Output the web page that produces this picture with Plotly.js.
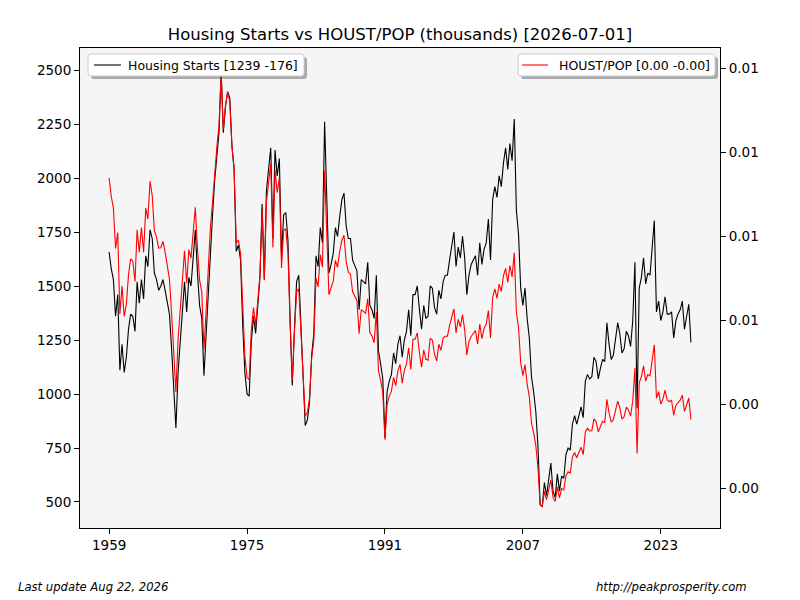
<!DOCTYPE html>
<html>
<head>
<meta charset="utf-8">
<script src="https://cdn.plot.ly/plotly-3.0.1.min.js"></script>
<style>
  html, body { margin: 0; padding: 0; background: #ffffff; }
  #chart { width: 800px; height: 600px; }
</style>
</head>
<body>
<div id="chart"></div>
<script>
// quarterly samples (Jan, Apr, Jul, Oct), housing starts, thousands SAAR
const firstYear = 1959;
const houst = [
  1657, 1580, 1530, 1360,   // 1959
  1460, 1110, 1230, 1100,   // 1960
  1170, 1300, 1370, 1360,   // 1961
  1290, 1520, 1420, 1530,   // 1962
  1440, 1640, 1590, 1760,   // 1963
  1720, 1560, 1530, 1480,   // 1964
  1500, 1530, 1480, 1420,   // 1965
  1370, 1210, 1030, 843,    // 1966
  1100, 1250, 1400, 1520,   // 1967
  1380, 1540, 1500, 1640,   // 1968
  1760, 1560, 1410, 1350,   // 1969
  1085, 1270, 1470, 1680,   // 1970
  1830, 1990, 2100, 2210,   // 1971
  2494, 2210, 2330, 2400,   // 1972
  2370, 2150, 2040, 1660,   // 1973
  1690, 1620, 1320, 1100,   // 1974
  1000, 990, 1240, 1360,    // 1975
  1280, 1400, 1540, 1880,   // 1976
  1530, 1940, 2040, 2140,   // 1977
  1720, 2130, 2010, 2090,   // 1978
  1630, 1830, 1840, 1710,   // 1979
  1340, 1040, 1300, 1520,   // 1980
  1550, 1310, 1020, 854,    // 1981
  880, 960, 1180, 1280,     // 1982
  1640, 1590, 1770, 1700,   // 1983
  2260, 1880, 1560, 1600,   // 1984
  1650, 1770, 1730, 1820,   // 1985
  1900, 1930, 1780, 1720,   // 1986
  1720, 1620, 1590, 1570,   // 1987
  1390, 1530, 1520, 1510,   // 1988
  1610, 1410, 1390, 1350,   // 1989
  1550, 1200, 1140, 1070,   // 1990
  798, 1010, 1060, 1090,    // 1991
  1190, 1140, 1230, 1270,   // 1992
  1170, 1250, 1290, 1390,   // 1993
  1270, 1460, 1460, 1500,   // 1994
  1390, 1300, 1410, 1350,   // 1995
  1360, 1500, 1490, 1400,   // 1996
  1370, 1480, 1440, 1520,   // 1997
  1550, 1550, 1620, 1680,   // 1998
  1750, 1590, 1680, 1630,   // 1999
  1730, 1630, 1460, 1550,   // 2000
  1600, 1620, 1640, 1550,   // 2001
  1700, 1600, 1670, 1700,   // 2002
  1810, 1620, 1900, 1960,   // 2003
  1910, 2010, 1960, 2070,   // 2004
  2140, 2040, 2160, 2080,   // 2005
  2273, 1850, 1740, 1490,   // 2006
  1410, 1490, 1350, 1260,   // 2007
  1080, 1010, 920, 760,     // 2008
  490, 478, 590, 530,       // 2009
  610, 680, 550, 520,       // 2010
  630, 550, 620, 610,       // 2011
  720, 750, 740, 860,       // 2012
  900, 860, 900, 940,       // 2013
  890, 1060, 1090, 1070,    // 2014
  1080, 1170, 1150, 1070,   // 2015
  1120, 1160, 1150, 1330,   // 2016
  1230, 1160, 1180, 1260,   // 2017
  1330, 1280, 1190, 1210,   // 2018
  1290, 1270, 1220, 1340,   // 2019
  1610, 934, 1490, 1540,    // 2020
  1630, 1510, 1560, 1550,   // 2021
  1680, 1803, 1380, 1430,   // 2022
  1340, 1380, 1450, 1370,   // 2023
  1370, 1380, 1260, 1340,   // 2024
  1370, 1390, 1430, 1300,   // 2025
  1360, 1415, 1239          // 2026
];

// US population, millions, by year 1959..2026
const pop = [
  176.6, 180.7, 183.7, 186.5, 189.2, 191.9, 194.3, 196.6, 198.7, 200.7,
  202.7, 205.1, 207.7, 209.9, 211.9, 213.9, 216.0, 218.0, 220.2, 222.6,
  225.1, 227.7, 229.9, 232.2, 234.3, 236.3, 238.5, 240.7, 242.8, 245.0,
  247.3, 250.1, 253.5, 256.9, 260.3, 263.4, 266.6, 269.7, 272.9, 276.1,
  279.3, 282.4, 285.3, 288.0, 290.7, 293.3, 296.0, 298.8, 301.7, 304.5,
  307.2, 309.7, 311.9, 314.1, 316.3, 318.6, 321.0, 323.3, 325.3, 327.1,
  328.6, 331.0, 332.0, 333.3, 335.0, 337.5, 339.8, 341.5
];

const tickYears = [1959, 1975, 1991, 2007, 2023];
const leftTickVals = [500, 750, 1000, 1250, 1500, 1750, 2000, 2250, 2500];
const rightTickVals = [0.002, 0.004, 0.006, 0.008, 0.010, 0.012];
const rightTickText = ['0.00', '0.00', '0.01', '0.01', '0.01', '0.01'];

const titleText = 'Housing Starts vs HOUST/POP (thousands) [2026-07-01]';
const blackName = 'Housing Starts [1239 -176]';
const redName = 'HOUST/POP [0.00 -0.00]';

// build dates and the ratio series
let dates = [];
let ratio = [];
for (let i = 0; i < houst.length; i++) {
    let yr = firstYear + Math.floor(i / 4);
    let mon = 1 + 3 * (i % 4);
    dates.push(yr + '-' + String(mon).padStart(2, '0') + '-01');
    ratio.push(houst[i] / (pop[yr - firstYear] * 1000));
}

const FONT = 'DejaVu Sans, Liberation Sans, sans-serif';

// plot box in pixels
const PL = 80, PR = 720, PT = 48, PB = 528;
function px(x) { return (x - PL) / (PR - PL); }
function py(y) { return (PB - y) / (PB - PT); }

// rounded box in paper coords (pixel inputs)
function roundBox(x0, y0, x1, y1, r) {
    let rx = r / (PR - PL), ry = r / (PB - PT);
    let a = px(x0), b = px(x1), t = py(y0), u = py(y1);
    return 'M' + (a + rx) + ',' + t +
        ' L' + (b - rx) + ',' + t + ' Q' + b + ',' + t + ' ' + b + ',' + (t - ry) +
        ' L' + b + ',' + (u + ry) + ' Q' + b + ',' + u + ' ' + (b - rx) + ',' + u +
        ' L' + (a + rx) + ',' + u + ' Q' + a + ',' + u + ' ' + a + ',' + (u + ry) +
        ' L' + a + ',' + (t - ry) + ' Q' + a + ',' + t + ' ' + (a + rx) + ',' + t + ' Z';
}

function legendShapes(x0, y0, x1, y1, lineX0, lineX1, color) {
    let midY = (y0 + y1) / 2;
    return [
        { type: 'path', xref: 'paper', yref: 'paper', layer: 'above',
          path: roundBox(x0 + 3, y0 + 3, x1 + 3, y1 + 3, 3),
          fillcolor: 'rgba(80,80,80,0.45)', line: { width: 0 } },
        { type: 'path', xref: 'paper', yref: 'paper', layer: 'above',
          path: roundBox(x0, y0, x1, y1, 3),
          fillcolor: '#ffffff', line: { color: '#cccccc', width: 1 } },
        { type: 'line', xref: 'paper', yref: 'paper', layer: 'above',
          x0: px(lineX0), x1: px(lineX1), y0: py(midY), y1: py(midY),
          line: { color: color, width: 1.1 } }
    ];
}

let traces = [
    {
        x: dates, y: houst, name: blackName,
        type: 'scatter', mode: 'lines',
        line: { color: '#000000', width: 1.1 }
    },
    {
        x: dates, y: ratio, name: redName,
        type: 'scatter', mode: 'lines', yaxis: 'y2',
        line: { color: '#ff0000', width: 1.1 }
    }
];

let shapes = [].concat(
    legendShapes(88, 54, 304, 76, 94, 121, '#000000'),
    legendShapes(518, 54, 715, 76, 522, 548, '#ff0000')
);

let layout = {
    width: 800, height: 600,
    margin: { l: PL, r: 800 - PR, t: PT, b: 600 - PB },
    paper_bgcolor: '#ffffff',
    plot_bgcolor: '#f5f5f5',
    font: { family: FONT, size: 13.5, color: '#000000' },
    title: {
        text: titleText,
        font: { family: FONT, size: 16.5, color: '#000000' },
        x: 0.5, xref: 'container',
        y: 1 - 34 / 600, yref: 'container', yanchor: 'middle'
    },
    showlegend: false,
    xaxis: {
        type: 'date',
        range: ['1955-08-16', '2029-11-14'],
        tickvals: tickYears.map(y => y + '-01-01'),
        ticktext: tickYears.map(String),
        ticks: 'outside', ticklen: 5, tickwidth: 1, tickcolor: '#000000',
        showgrid: false, zeroline: false,
        showline: true, linecolor: '#000000', linewidth: 1, mirror: true
    },
    yaxis: {
        range: [379.6, 2601.9],
        tickvals: leftTickVals,
        ticks: 'outside', ticklen: 5, tickwidth: 1, tickcolor: '#000000',
        showgrid: false, zeroline: false,
        showline: true, linecolor: '#000000', linewidth: 1, mirror: true
    },
    yaxis2: {
        overlaying: 'y', side: 'right',
        range: [0.0010476, 0.0124762],
        tickvals: rightTickVals,
        ticktext: rightTickText,
        ticks: 'outside', ticklen: 5, tickwidth: 1, tickcolor: '#000000',
        showgrid: false, zeroline: false,
        showline: true, linecolor: '#000000', linewidth: 1
    },
    shapes: shapes,
    annotations: [
        {
            text: blackName, xref: 'paper', yref: 'paper',
            x: px(126), y: py(65), xanchor: 'left', yanchor: 'middle',
            showarrow: false, font: { family: FONT, size: 12.5, color: '#000000' }
        },
        {
            text: redName, xref: 'paper', yref: 'paper',
            x: px(557), y: py(65), xanchor: 'left', yanchor: 'middle',
            showarrow: false, font: { family: FONT, size: 12.5, color: '#000000' }
        },
        {
            text: '<i>Last update Aug 22, 2026</i>',
            xref: 'paper', yref: 'paper',
            x: px(16), y: py(587),
            xanchor: 'left', yanchor: 'middle', showarrow: false,
            font: { family: FONT, size: 11.6, color: '#000000' }
        },
        {
            text: '<i>http://peakprosperity.com</i>',
            xref: 'paper', yref: 'paper',
            x: px(749), y: py(587),
            xanchor: 'right', yanchor: 'middle', showarrow: false,
            font: { family: FONT, size: 11.6, color: '#000000' }
        }
    ]
};

Plotly.newPlot('chart', traces, layout, { displayModeBar: false, staticPlot: true });
</script>
</body>
</html>
